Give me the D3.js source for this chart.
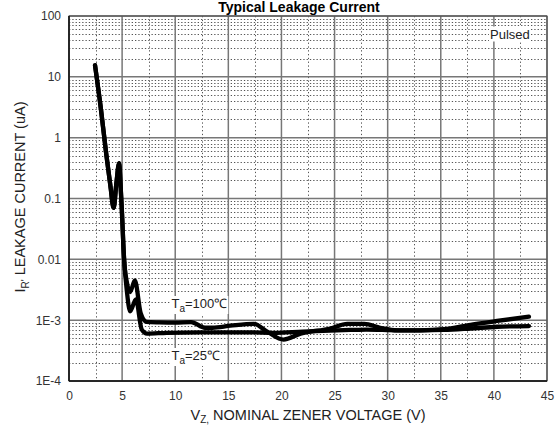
<!DOCTYPE html>
<html><head><meta charset="utf-8">
<script src="https://cdn.jsdelivr.net/npm/d3@7/dist/d3.min.js"></script>
<style>
body{margin:0;background:#fff;}
svg{display:block;font-family:"Liberation Sans",Arial,sans-serif;}
</style>
</head><body>
<svg id="c" width="556" height="426"></svg>
<script>
// ---- data ----
const xTicks = [0,5,10,15,20,25,30,35,40,45];
const xMinor = [2.5,7.5,12.5,17.5,22.5,27.5,32.5,37.5,42.5];
const yTicks = [1e-4,1e-3,0.01,0.1,1,10,100];
const yTickLabels = ["1E-4","1E-3","0.01","0.1","1","10","100"];

// Ta = 100 C
const v100 = [2.45,3.0,3.5,3.9,4.2,4.45,4.72,4.85,4.97,5.19,5.45,5.75,6.2,6.75,7.3,8.5,10,11.5,12.8,13.5,15.2,17.4,18.7,20.2,21.8,24.6,26.2,27.8,29.3,30.9,33.1,35.3,37.8,40.3,43.3];
const i100 = [15.5,3.0,0.55,0.16,0.07,0.17,0.38,0.17,0.067,0.0098,0.0042,0.0029,0.0045,0.0013,0.00094,0.00092,0.00091,0.00093,0.00075,0.00075,0.00081,0.00087,0.00064,0.00048,0.0006,0.00073,0.00087,0.00087,0.00075,0.00068,0.00068,0.00071,0.00084,0.00097,0.00114];
// Ta = 25 C
const v25 = [2.45,3.0,3.5,3.9,4.2,4.45,4.72,4.85,4.97,5.19,5.45,5.75,6.3,6.85,7.35,9.2,12.4,17,19.3,22,26.5,28,31,33,35.3,37.8,40.3,43.3];
const i25 = [15.5,3.0,0.55,0.16,0.07,0.17,0.38,0.17,0.067,0.0098,0.003,0.0014,0.0022,0.0007,0.0006,0.00062,0.00063,0.00063,0.00062,0.00065,0.00069,0.0007,0.00068,0.00068,0.00069,0.00073,0.00078,0.0008];

const title = "Typical Leakage Current";

// ---- layout ----
const svg = d3.select("#c");
const L=69, R=547, T=16, B=381;
const x = d3.scaleLinear().domain([0,45]).range([L,R]);
const y = d3.scaleLog().domain([1e-4,100]).range([B,T]);

svg.append("rect").attr("width",556).attr("height",426).attr("fill","#fff");

// minor horizontal dotted lines
const minorY = [];
for (let d=-4; d<2; d++) for (let m=2; m<=9; m++) minorY.push(m*Math.pow(10,d));
const g = svg.append("g");
g.selectAll("line.my").data(minorY).join("line")
  .attr("x1",L).attr("x2",R)
  .attr("y1",d=>Math.round(y(d))+0.5).attr("y2",d=>Math.round(y(d))+0.5)
  .attr("stroke","#555").attr("stroke-width",1).attr("stroke-dasharray","1.3,2");
g.selectAll("line.mx").data(xMinor).join("line")
  .attr("y1",T).attr("y2",B)
  .attr("x1",d=>Math.round(x(d))+0.5).attr("x2",d=>Math.round(x(d))+0.5)
  .attr("stroke","#555").attr("stroke-width",1).attr("stroke-dasharray","1.3,2.5");
// major
g.selectAll("line.My").data(yTicks).join("line")
  .attr("x1",L).attr("x2",R)
  .attr("y1",d=>y(d)).attr("y2",d=>y(d))
  .attr("stroke","#777").attr("stroke-width",1.5);
g.selectAll("line.Mx").data(xTicks).join("line")
  .attr("y1",T).attr("y2",B)
  .attr("x1",d=>x(d)).attr("x2",d=>x(d))
  .attr("stroke","#777").attr("stroke-width",1.5);
// border
svg.append("rect").attr("x",L).attr("y",T).attr("width",R-L).attr("height",B-T)
  .attr("fill","none").attr("stroke","#444").attr("stroke-width",1);
svg.append("line").attr("x1",L).attr("x2",L).attr("y1",T).attr("y2",B).attr("stroke","#111").attr("stroke-width",1.5);
svg.append("line").attr("x1",L).attr("x2",R).attr("y1",B).attr("y2",B).attr("stroke","#111").attr("stroke-width",1.5);

// axes via d3 axis (labels only)
const xAxis = svg.append("g").attr("transform",`translate(0,${B})`)
  .call(d3.axisBottom(x).tickValues(xTicks).tickSize(0).tickPadding(10).tickFormat(d3.format("d")));
const yAxis = svg.append("g").attr("transform",`translate(${L},0)`)
  .call(d3.axisLeft(y).tickValues(yTicks).tickSize(0).tickPadding(8).tickFormat((d,i)=>yTickLabels[i]));
[xAxis,yAxis].forEach(a=>{
  a.select(".domain").remove();
  a.selectAll("text").attr("font-size",12).attr("fill","#333").attr("font-family","Liberation Sans, Arial, sans-serif");
});

// annotations with white boxes
function label(xp, yp, parts, size){
  const grp = svg.append("g");
  const t = grp.append("text").attr("x",xp).attr("y",yp).attr("font-size",size).attr("fill","#222");
  parts.forEach(p=>{
    t.append("tspan").text(p.t).attr("font-size",p.s||size).attr("dy",p.dy||0);
  });
  const bb = t.node().getBBox();
  grp.insert("rect","text").attr("x",bb.x-1).attr("y",bb.y).attr("width",bb.width+2).attr("height",bb.height).attr("fill","#fff");
  return grp;
}
label(490, 38.5, [{t:"Pulsed"}], 13);
label(171.5, 308, [{t:"T"},{t:"a",s:10,dy:4},{t:"=100℃",dy:-4}], 13);
label(171.5, 360, [{t:"T"},{t:"a",s:10,dy:4},{t:"=25℃",dy:-4}], 13);

// curves
const line = d3.line().x(d=>x(d[0])).y(d=>y(d[1])).curve(d3.curveMonotoneX);
const s100 = v100.map((v,i)=>[v,i100[i]]);
const s25 = v25.map((v,i)=>[v,i25[i]]);
[s25,s100].forEach(s=>{
  svg.append("path").attr("d",line(s)).attr("fill","none").attr("stroke","#000")
    .attr("stroke-width",4.3).attr("stroke-linejoin","round").attr("stroke-linecap","round");
});

// titles
svg.append("text").attr("x",299).attr("y",12).attr("text-anchor","middle")
  .attr("font-size",14).attr("font-weight","bold").attr("fill","#000").text(title);

const xt = svg.append("text").attr("x",308).attr("y",420).attr("text-anchor","middle")
  .attr("font-size",14.5).attr("fill","#222");
xt.append("tspan").text("V");
xt.append("tspan").text("Z,").attr("font-size",10).attr("dy",3);
xt.append("tspan").text(" NOMINAL ZENER VOLTAGE (V)").attr("dy",-3);

const yt = svg.append("text").attr("transform","translate(25,197) rotate(-90)").attr("text-anchor","middle")
  .attr("font-size",14.5).attr("fill","#222");
yt.append("tspan").text("I");
yt.append("tspan").text("R").attr("font-size",10).attr("dy",4);
yt.append("tspan").text("'").attr("font-size",10);
yt.append("tspan").text(" LEAKAGE CURRENT (uA)").attr("dy",-4);
</script>
</body></html>
